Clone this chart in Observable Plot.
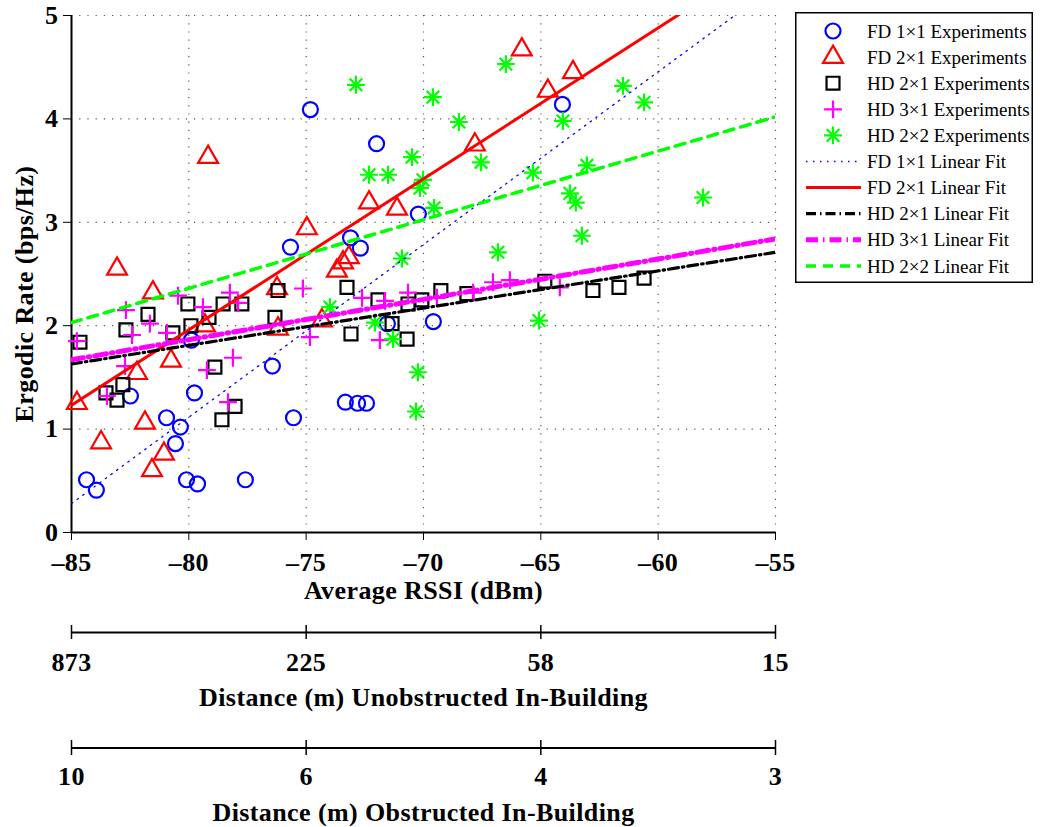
<!DOCTYPE html>
<html>
<head>
<meta charset="utf-8">
<script src="https://cdn.jsdelivr.net/npm/d3@7"></script>
<script src="https://cdn.jsdelivr.net/npm/@observablehq/plot@0.6"></script>
<style>
  body { margin: 0; background: #fff; }
  #wrap { position: relative; width: 1040px; height: 827px; overflow: hidden; background: #fff; }
  #wrap svg { display: block; max-width: none; }
</style>
</head>
<body>
<div id="wrap"></div>
<script>
// ---------- axis ticks & labels ----------
const xTicks = [-85, -80, -75, -70, -65, -60, -55];
const yTicks = [0, 1, 2, 3, 4, 5];
const rssiTicks = [-85, -75, -65, -55];
const unobstructedLabels = ["873", "225", "58", "15"];
const obstructedLabels = ["10", "6", "4", "3"];

const xTitle = "Average RSSI (dBm)";
const yTitle = "Ergodic Rate (bps/Hz)";
const unobstructedTitle = "Distance (m) Unobstructed In-Building";
const obstructedTitle = "Distance (m) Obstructed In-Building";

const seriesNames = [
  "FD 1×1 Experiments", "FD 2×1 Experiments", "HD 2×1 Experiments",
  "HD 3×1 Experiments", "HD 2×2 Experiments"
];
const fitNames = [
  "FD 1×1 Linear Fit", "FD 2×1 Linear Fit", "HD 2×1 Linear Fit",
  "HD 3×1 Linear Fit", "HD 2×2 Linear Fit"
];

// ---------- experiment data ----------
const fd11X = [-84.36, -83.94, -82.49, -80.95, -80.57, -80.36, -80.10, -79.89, -79.76, -79.63, -77.59, -76.44, -75.67, -75.54, -74.82, -73.33, -72.81, -72.43, -73.11, -72.69, -72.00, -71.54, -70.22, -69.58, -64.08];
const fd11Y = [0.51, 0.41, 1.32, 1.11, 0.86, 1.02, 0.51, 1.86, 1.35, 0.47, 0.51, 1.61, 2.76, 1.11, 4.09, 1.26, 1.25, 1.25, 2.85, 2.75, 3.76, 2.02, 3.08, 2.04, 4.14];

const fd21X = [-84.77, -83.74, -83.06, -82.21, -81.87, -81.53, -81.57, -81.06, -80.76, -79.31, -79.18, -76.24, -76.20, -74.97, -74.33, -73.69, -73.43, -73.18, -72.32, -71.13, -67.81, -65.81, -64.70, -63.63];
const fd21Y = [1.25, 0.87, 2.55, 1.54, 1.06, 2.32, 0.60, 0.76, 1.66, 2.00, 3.63, 2.36, 1.97, 2.94, 2.05, 2.53, 2.61, 2.66, 3.19, 3.13, 3.75, 4.67, 4.27, 4.45];

const hd21X = [-84.64, -83.53, -83.06, -82.81, -82.68, -81.74, -80.68, -80.04, -79.91, -79.14, -78.89, -78.59, -78.54, -78.03, -77.74, -76.33, -76.20, -73.26, -73.09, -71.94, -71.34, -70.70, -70.66, -70.07, -69.26, -68.15, -64.83, -62.78, -61.67, -60.60];
const hd21Y = [1.84, 1.35, 1.28, 1.43, 1.96, 2.11, 1.93, 2.21, 2.00, 2.08, 1.60, 1.09, 2.21, 1.22, 2.21, 2.08, 2.34, 2.37, 1.92, 2.25, 2.02, 1.87, 2.21, 2.25, 2.34, 2.31, 2.43, 2.34, 2.37, 2.46];

const hd31X = [-84.77, -83.49, -82.72, -82.68, -82.42, -81.66, -80.93, -80.46, -79.40, -79.23, -78.33, -78.25, -78.12, -77.90, -75.14, -74.84, -72.62, -71.86, -71.64, -70.66, -69.43, -67.89, -67.04, -66.32, -64.19];
const hd31Y = [1.85, 1.32, 1.61, 2.15, 1.91, 2.02, 1.93, 2.29, 2.18, 1.57, 1.26, 2.32, 1.69, 2.22, 2.36, 1.89, 2.27, 1.86, 2.24, 2.32, 2.27, 2.32, 2.42, 2.44, 2.37];

const hd22X = [-73.99, -72.88, -72.32, -72.07, -71.51, -71.30, -70.92, -70.49, -70.32, -70.24, -70.15, -70.02, -69.60, -69.55, -68.49, -67.55, -66.83, -66.49, -65.34, -65.08, -64.06, -63.76, -63.51, -63.25, -63.04, -61.50, -60.60, -58.09];
const hd22Y = [2.18, 4.33, 3.46, 2.03, 3.46, 1.87, 2.65, 3.63, 1.17, 1.55, 3.33, 3.41, 4.21, 3.14, 3.97, 3.58, 2.71, 4.53, 3.48, 2.05, 3.98, 3.28, 3.19, 2.87, 3.55, 4.32, 4.16, 3.24];

// ---------- linear fits (values read at the ends of the RSSI range) ----------
const fitX = [-85, -55];
const fitFD11 = [0.28, 5.29];
const fitFD21 = [1.23, 5.61];
const fitHD21 = [1.63, 2.71];
const fitHD31 = [1.67, 2.84];
const fitHD22 = [2.03, 4.02];

// ---------- helpers ----------
const rows = (xs, ys) => xs.map((x, i) => ({x, y: ys[i]}));
const fmtX = d => d < 0 ? "\u2013" + Math.abs(d) : String(d);
const fmtY = d => String(d);
const serif = "'Liberation Serif', 'Times New Roman', serif";
const textStyle = {fontFamily: serif, fontSize: "26px", fontWeight: "bold", letterSpacing: "0.4px", background: "white", overflow: "visible"};

const styles = {
  fd11: {color: "#0000ff", symbol: "circle", r: 7.5},
  fd21: {color: "#ff0000", symbol: "triangle2", r: 9.5},
  hd21: {color: "#000000", symbol: "square", r: 7.3},
  hd31: {color: "#ff00ff", symbol: "plus", r: 5.8},
  hd22: {color: "#00ff00", symbol: "plus", r: 5.8}
};
const fitStyles = [
  {color: "#0000ff", width: 1.3, dash: "1.5,5.5"},
  {color: "#ff0000", width: 3, dash: null},
  {color: "#000000", width: 3.2, dash: "10,4,1.5,4"},
  {color: "#ff00ff", width: 5, dash: "12,5,1.5,5"},
  {color: "#00ff00", width: 3.5, dash: "10,7"}
];

const dot = (data, st) => Plot.dot(data, {x: "x", y: "y", symbol: st.symbol, r: st.r, stroke: st.color, strokeWidth: 2.2, fill: "none"});
const fitLine = (vals, fs) => Plot.line(rows(fitX, vals), {
  x: "x", y: "y", stroke: fs.color, strokeWidth: fs.width,
  strokeDasharray: fs.dash == null ? undefined : fs.dash, clip: true
});

const wrap = document.getElementById("wrap");

// ---------- main chart ----------
const main = Plot.plot({
  width: 1040,
  height: 610,
  marginLeft: 71,
  marginRight: 265,
  marginTop: 15,
  marginBottom: 78,
  style: textStyle,
  x: {domain: [-85, -55], ticks: xTicks, tickFormat: fmtX, tickSize: 8, tickPadding: 12, label: null},
  y: {domain: [0, 5], ticks: yTicks, tickFormat: fmtY, tickSize: 8, tickPadding: 5, label: null},
  marks: [
    Plot.ruleX(xTicks, {stroke: "#555", strokeWidth: 1.2, strokeDasharray: "1.2,7"}),
    Plot.ruleY(yTicks, {stroke: "#555", strokeWidth: 1.2, strokeDasharray: "1.2,7"}),
    Plot.ruleX([-85], {y1: 0, y2: 5, stroke: "black", strokeWidth: 2}),
    Plot.ruleY([0], {stroke: "black", strokeWidth: 2}),
    dot(rows(fd11X, fd11Y), styles.fd11),
    dot(rows(fd21X, fd21Y), styles.fd21),
    dot(rows(hd21X, hd21Y), styles.hd21),
    dot(rows(hd31X, hd31Y), styles.hd31),
    dot(rows(hd22X, hd22Y), {...styles.hd22, symbol: "plus"}),
    dot(rows(hd22X, hd22Y), {...styles.hd22, symbol: "times"}),
    fitLine(fitFD11, fitStyles[0]),
    fitLine(fitFD21, fitStyles[1]),
    fitLine(fitHD21, fitStyles[2]),
    fitLine(fitHD31, fitStyles[3]),
    fitLine(fitHD22, fitStyles[4]),
    Plot.text([xTitle], {text: d => d, frameAnchor: "bottom", dy: 58, lineAnchor: "middle", textAnchor: "middle"}),
    Plot.text([yTitle], {text: d => d, frameAnchor: "left", rotate: -90, dx: -47, dy: 20, lineAnchor: "middle", textAnchor: "middle"})
  ]
});
wrap.appendChild(main);

// ---------- secondary distance axes ----------
function distAxis(labels, title, height, mt, mb, pad, titleDy) {
  return Plot.plot({
    width: 1040,
    height,
    marginLeft: 71,
    marginRight: 265,
    marginTop: mt,
    marginBottom: mb,
    style: textStyle,
    x: {domain: [-85, -55], ticks: rssiTicks, tickFormat: d => labels[rssiTicks.indexOf(d)], tickSize: 0, tickPadding: pad, label: null},
    y: {domain: [0, 1], axis: null},
    marks: [
      Plot.ruleY([0.5], {stroke: "black", strokeWidth: 2}),
      Plot.ruleX(rssiTicks, {stroke: "black", strokeWidth: 1.5}),
      Plot.text([title], {text: d => d, frameAnchor: "bottom", dy: titleDy, lineAnchor: "middle", textAnchor: "middle"})
    ]
  });
}
wrap.appendChild(distAxis(unobstructedLabels, unobstructedTitle, 110, 15, 81, 13, 58));
wrap.appendChild(distAxis(obstructedLabels, obstructedTitle, 107, 20, 72, 11, 57));

// ---------- legend ----------
const leg = d3.select(wrap).append("svg")
  .attr("width", 238).attr("height", 271)
  .style("position", "absolute").style("left", "795px").style("top", "12px");
leg.append("rect").attr("x", 0.75).attr("y", 0.75).attr("width", 236.5).attr("height", 269.5)
  .attr("fill", "white").attr("stroke", "black").attr("stroke-width", 1.5);

const symMap = {circle: d3.symbolCircle, triangle2: d3.symbolTriangle2, square: d3.symbolSquare, plus: d3.symbolPlus, times: d3.symbolTimes};
const legendSym = [styles.fd11, styles.fd21, styles.hd21, styles.hd31, styles.hd22];
const rowY = i => 19 + i * 26.1;

seriesNames.forEach((name, i) => {
  const st = legendSym[i];
  const syms = i === 4 ? ["plus", "times"] : [st.symbol];
  syms.forEach(s => {
    leg.append("path")
      .attr("d", d3.symbol(symMap[s], Math.PI * st.r * st.r)())
      .attr("transform", `translate(38,${rowY(i)})`)
      .attr("fill", "none").attr("stroke", st.color).attr("stroke-width", 2.2);
  });
  leg.append("text").attr("x", 72).attr("y", rowY(i)).attr("dy", "0.35em")
    .attr("font-family", serif).attr("font-size", 19).text(name);
});
fitNames.forEach((name, j) => {
  const i = j + 5;
  const fs = fitStyles[j];
  const ln = leg.append("line").attr("x1", 11).attr("x2", 66).attr("y1", rowY(i)).attr("y2", rowY(i))
    .attr("stroke", fs.color).attr("stroke-width", fs.width);
  if (fs.dash) ln.attr("stroke-dasharray", fs.dash);
  leg.append("text").attr("x", 72).attr("y", rowY(i)).attr("dy", "0.35em")
    .attr("font-family", serif).attr("font-size", 19).text(name);
});
</script>
</body>
</html>
